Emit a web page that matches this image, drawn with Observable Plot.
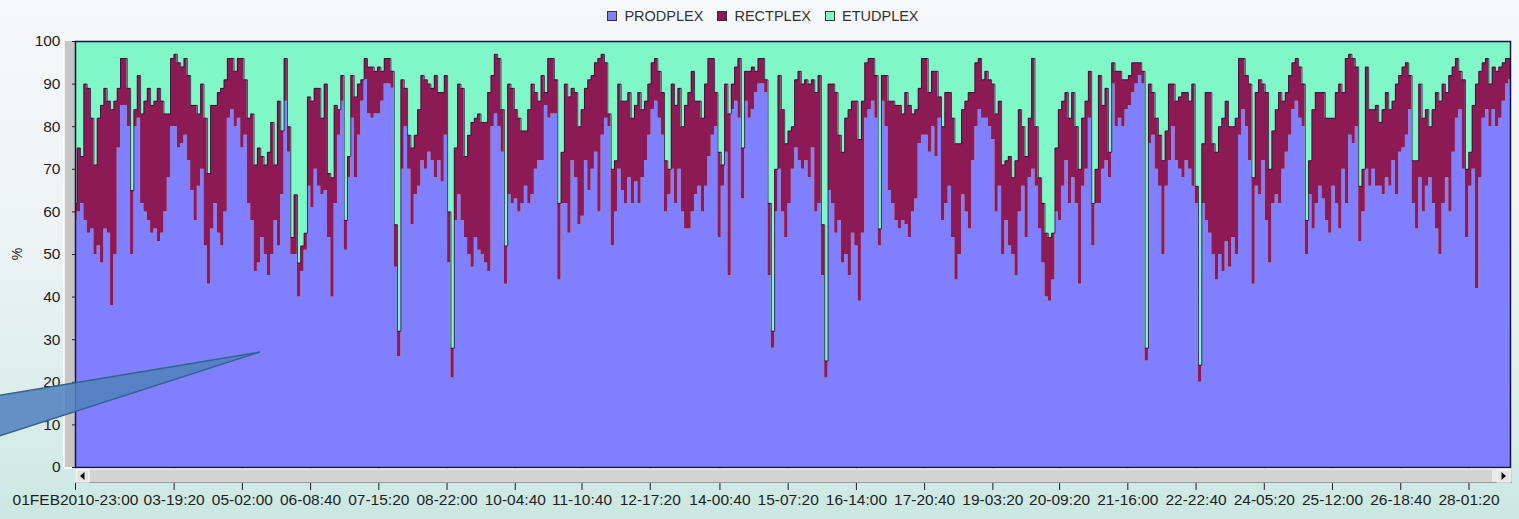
<!DOCTYPE html>
<html>
<head>
<meta charset="utf-8">
<script src="https://cdn.jsdelivr.net/npm/d3@7"></script>
<script src="https://cdn.jsdelivr.net/npm/@observablehq/plot@0.6"></script>
<style>
html,body{margin:0;padding:0;}
body{width:1519px;height:519px;overflow:hidden;position:relative;
  background:linear-gradient(180deg,#f6f8fa 0%,#eef3f5 45%,#d6ece9 85%,#cbe7e2 100%);
  font-family:"Liberation Sans",Arial,sans-serif;}
#legend{height:32px;display:flex;justify-content:center;align-items:center;font-size:14.5px;color:#333;padding-left:7px;box-sizing:border-box;}
#legend .item{display:flex;align-items:center;margin:0 7px;}
#legend .sw{display:inline-block;width:8px;height:8px;border:1px solid #333;margin-right:7px;}
#chart svg{display:block;}
#callout{position:absolute;left:0;top:0;pointer-events:none;}
</style>
</head>
<body>
<div id="legend"></div>
<div id="chart"></div>
<svg id="callout" width="1519" height="519"></svg>
<script>
// ---- data (percent), sampled every 90 minutes from 01FEB2010 23:00 ----
const seriesNames = ["PRODPLEX", "RECTPLEX", "ETUDPLEX"];
const seriesColors = ["#8080FF", "#8B1A55", "#7FF7C6"];
const startLabel = "01FEB2010-23:00";
const stepMinutes = 90;

const prodplex = [58,
60,62,58,55,56,50,52,48,56,55,38,50,75,85,85,80,50,80,82,62,60,58,55,56,53,55,60,68,80,80,75,76,78,72,65,58,66,70,52,43,56,62,55,52,60,82,84,80,82,75,78,62,58,46,48,54,50,45,50,58,52,
64,86,74,50,50,40,46,51,66,61,70,66,64,65,54,40,62,78,86,51,68,82,68,78,86,91,83,82,83,83,86,90,90,89,47,26,70,80,70,57,64,66,72,70,74,72,68,72,67,78,48,21,58,64,58,54,50,47,54,51,50,
48,46,80,83,80,74,43,64,62,63,60,62,66,62,64,70,72,72,85,82,83,83,44,62,62,55,72,68,57,59,72,65,70,74,60,78,82,80,52,60,70,65,62,68,62,67,62,68,72,78,84,86,82,78,60,64,70,62,70,60,56,
56,60,64,66,60,66,73,78,80,54,66,74,45,84,86,82,63,86,82,84,88,90,90,88,45,28,60,70,60,54,62,70,75,72,70,72,68,75,60,62,45,21,65,62,55,58,48,50,45,55,52,39,55,82,84,86,82,52,86,80,65,
62,58,56,58,57,54,60,63,76,78,78,74,80,73,82,58,62,66,54,44,50,64,60,56,72,80,84,82,82,80,77,60,66,50,58,52,50,45,60,66,54,68,70,66,56,48,40,39,44,60,58,66,72,62,68,62,43,66,70,82,52,
62,62,70,72,68,90,80,82,80,84,85,88,90,92,90,25,76,78,70,66,50,66,72,80,72,70,68,72,70,66,62,20,62,58,55,50,44,50,46,53,47,54,50,78,84,80,72,43,66,64,72,58,48,62,64,62,70,74,78,84,86,
82,80,50,64,56,62,66,63,58,55,66,62,56,70,62,78,76,80,53,60,70,66,70,66,66,64,68,66,72,64,74,75,78,84,62,56,68,60,66,68,62,56,50,62,68,60,74,82,84,70,54,66,70,42,68,82,84,80,84,80,82,86,90,91];

const rectplex = [4,
15,11,32,34,26,21,30,37,33,31,46,36,14,11,11,9,15,4,10,21,26,31,30,30,36,31,23,15,16,17,20,18,18,20,20,27,17,20,30,26,29,23,33,37,31,14,12,13,14,21,13,20,25,25,27,19,21,29,31,13,34,
15,10,6,4,14,8,6,4,21,25,19,23,18,25,15,28,23,6,6,7,5,10,19,12,5,5,11,12,10,11,7,6,6,4,10,6,21,9,8,18,14,18,20,21,16,17,24,16,21,14,12,7,17,26,31,19,28,34,28,32,31,
33,42,12,14,16,10,9,26,27,21,22,17,13,22,26,18,14,20,3,14,13,8,18,12,28,32,17,20,23,25,17,26,22,21,36,19,13,3,18,12,20,21,24,20,20,18,26,16,14,12,11,10,11,10,12,6,20,23,19,20,29,
32,33,22,20,22,24,23,18,8,20,5,16,38,6,8,14,12,7,11,10,5,6,6,3,17,4,10,22,24,22,17,10,16,21,20,19,22,16,28,30,12,4,25,28,33,20,26,32,39,31,34,38,31,13,12,10,10,4,6,12,21,
24,27,29,25,31,31,23,21,13,18,18,14,13,20,5,22,26,22,28,32,26,20,26,32,16,15,12,9,11,11,13,23,20,21,14,21,18,27,24,14,19,14,26,14,12,14,15,15,11,15,26,20,16,20,20,18,27,16,16,11,10,
8,30,15,17,6,5,13,11,11,7,7,7,5,3,3,3,14,10,12,12,22,13,18,10,14,17,20,16,16,24,4,4,14,30,33,26,30,30,36,33,33,26,32,18,12,12,18,25,22,27,18,30,22,17,20,26,16,14,14,11,10,
12,10,8,8,28,26,22,25,24,27,16,26,34,18,34,19,20,14,13,10,24,18,14,19,15,20,20,18,14,26,18,19,17,8,10,16,22,22,18,12,22,32,36,28,20,32,20,14,9,21,16,8,15,48,25,13,12,10,10,13,12,9,6,5];

const etudplex = [38,
25,27,10,11,18,29,18,15,11,14,16,14,11,4,4,11,35,16,8,17,14,11,15,14,11,14,17,17,4,3,5,6,4,8,15,15,17,10,18,31,15,15,12,11,9,4,4,7,4,4,9,18,17,29,25,27,29,26,19,29,14,
21,4,20,46,36,52,48,45,13,14,11,11,18,10,31,32,15,16,8,42,27,8,13,10,9,4,6,6,7,6,7,4,4,7,43,68,9,11,22,25,22,16,8,9,10,11,8,12,12,8,40,72,25,10,11,27,22,19,18,17,19,
19,12,8,3,4,16,48,10,11,16,18,21,21,16,10,12,14,8,12,4,4,9,38,26,10,13,11,12,20,16,11,9,8,5,4,3,5,17,30,28,10,14,14,12,18,15,12,16,14,10,5,4,7,12,28,30,10,15,11,20,15,
12,7,14,14,18,10,4,4,12,26,29,10,17,10,6,4,25,7,7,6,7,4,4,9,38,68,30,8,16,24,21,20,9,7,10,9,10,9,12,8,43,75,10,10,12,22,26,18,16,14,14,23,14,5,4,4,8,44,8,8,14,
14,15,15,17,12,15,17,16,11,4,4,12,7,7,13,20,12,12,18,24,24,16,14,12,12,5,4,9,7,9,10,17,14,29,28,27,32,28,16,20,27,18,4,20,32,38,45,46,45,25,16,14,12,18,12,20,30,18,14,7,38,
30,8,15,11,26,5,7,7,9,9,8,5,5,5,7,72,10,12,18,22,28,21,10,10,14,13,12,12,14,10,34,76,24,12,12,24,26,20,18,14,20,20,18,4,4,8,10,32,12,9,10,12,30,21,16,12,14,12,8,5,4,
6,10,42,28,16,12,12,12,18,18,18,12,10,12,4,3,4,6,34,30,6,16,16,15,19,16,12,16,14,10,8,6,5,8,28,28,10,18,16,20,16,12,14,10,12,8,6,4,7,9,30,26,15,10,7,5,4,10,6,7,6,5,4,4];

const xTickLabels = ["01FEB2010-23:00","03-19:20","05-02:00","06-08:40","07-15:20","08-22:00","10-04:40","11-10:40","12-17:20","14-00:40","15-07:20","16-14:00","17-20:40","19-03:20","20-09:20","21-16:00","22-22:40","24-05:20","25-12:00","26-18:40","28-01:20"];
const yTicks = [0,10,20,30,40,50,60,70,80,90,100];
const yLabel = "%";

// ---- build tables ----
function parseLabel(s) {
  const day = parseInt(s.slice(0, 2), 10);
  const hm = s.slice(-5).split(":");
  return new Date(2010, 1, day, +hm[0], +hm[1]);
}
const start = parseLabel(startLabel);
const dates = prodplex.map((_, i) => new Date(start.getTime() + i * stepMinutes * 60000));
const seriesValues = [prodplex, rectplex, etudplex];
const long = [];
seriesNames.forEach((s, k) => seriesValues[k].forEach((v, i) => long.push({date: dates[i], series: s, value: v})));
const rows = dates.map((d, i) => ({date: d, top: prodplex[i] + rectplex[i]}));
const tickDates = xTickLabels.map(parseLabel);
const labelMap = new Map(tickDates.map((d, i) => [+d, xTickLabels[i]]));

// ---- legend ----
const legend = d3.select("#legend");
seriesNames.forEach((s, k) => {
  const it = legend.append("span").attr("class", "item");
  it.append("span").attr("class", "sw").style("background", seriesColors[k]);
  it.append("span").text(s);
});

// ---- chart ----
const W = 1519, H = 487, mL = 75, mR = 9, mT = 9, mB = 52;
const chart = Plot.plot({
  width: W, height: H,
  marginLeft: mL, marginRight: mR, marginTop: mT, marginBottom: mB,
  style: {fontFamily: '"Liberation Sans", Arial, sans-serif', fontSize: "15.5px", color: "#1e1e1e", background: "transparent", overflow: "visible"},
  x: {type: "time", domain: [dates[0], dates[dates.length - 1]]},
  y: {domain: [0, 100]},
  color: {domain: seriesNames, range: seriesColors},
  marks: [
    Plot.areaY(long, {x: "date", y: "value", z: "series", fill: "series", order: seriesNames, curve: "step"}),
    Plot.lineY(rows, {x: "date", y: "top", curve: "step", stroke: "#2a1030", strokeWidth: 1, strokeOpacity: 0.8}),
    Plot.frame({stroke: "#16163a", strokeWidth: 1.5}),
    Plot.axisY({ticks: yTicks, tickSize: 3, tickPadding: 12, label: null}),
    Plot.axisX({ticks: tickDates, tickFormat: d => labelMap.get(+d), tickSize: 23, tickPadding: 3, label: null})
  ]
});
document.getElementById("chart").appendChild(chart);

// ---- decorations: 3D wall, scrollbar, y label ----
const svg = d3.select(chart);
const x0 = mL, x1 = W - mR, yTop = mT, yBot = H - mB;
const wall = svg.insert("g", ":first-child");
wall.append("rect").attr("x", x0 - 11).attr("y", yTop).attr("width", 11).attr("height", yBot - yTop).attr("fill", "#c6c6c6");
wall.append("line").attr("x1", x0 - 11).attr("x2", x0 - 11).attr("y1", yTop).attr("y2", yBot).attr("stroke", "#ffffff").attr("stroke-width", 1.5);
wall.append("line").attr("x1", x0 - 11).attr("x2", x0).attr("y1", yBot + 1).attr("y2", yBot + 1).attr("stroke", "#ffffff").attr("stroke-width", 1.5);

const sb = svg.append("g");
sb.append("rect").attr("x", x0).attr("y", yBot + 1.5).attr("width", x1 - x0 + 2).attr("height", 14).attr("fill", "#d3d3d3");
sb.append("line").attr("x1", x0).attr("x2", x1 + 2).attr("y1", yBot + 2).attr("y2", yBot + 2).attr("stroke", "#f4f4f4");
sb.append("line").attr("x1", x0).attr("x2", x1 + 2).attr("y1", yBot + 15.5).attr("y2", yBot + 15.5).attr("stroke", "#9a9a9a");
[[x0 + 1, -1], [x1 - 13, 1]].forEach(([bx, dir]) => {
  sb.append("rect").attr("x", bx).attr("y", yBot + 3).attr("width", 13).attr("height", 12).attr("fill", "#e4e4e4").attr("stroke", "#ffffff");
  const cx = bx + 6.5, cy = yBot + 9;
  sb.append("path").attr("d", `M${cx - 2 * dir},${cy - 4}L${cx + 2.5 * dir},${cy}L${cx - 2 * dir},${cy + 4}Z`).attr("fill", "#111");
});
sb.append("line").attr("x1", x1 - 17).attr("x2", x1 - 17).attr("y1", yBot + 3).attr("y2", yBot + 15).attr("stroke", "#ffffff");
sb.append("line").attr("x1", x1 - 15).attr("x2", x1 - 15).attr("y1", yBot + 3).attr("y2", yBot + 15).attr("stroke", "#ffffff");

svg.append("text").attr("transform", `translate(17,${(yTop + yBot) / 2}) rotate(-90)`)
  .attr("text-anchor", "middle").attr("dy", "0.35em").attr("font-size", 14).attr("fill", "#1e1e1e").text(yLabel);

// ---- callout shape ----
d3.select("#callout").append("polygon")
  .attr("points", "-10,397 260,352 -10,439")
  .attr("fill", "rgba(79,129,189,0.86)").attr("stroke", "#34628f").attr("stroke-width", 1.5);
</script>
</body>
</html>
